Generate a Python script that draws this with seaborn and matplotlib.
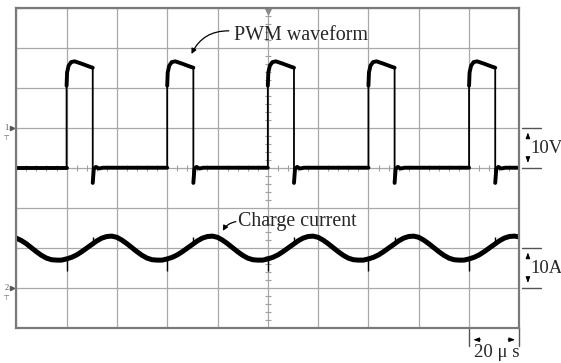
import numpy as np
import pandas as pd
import matplotlib
matplotlib.use("Agg")
import matplotlib.pyplot as plt
import seaborn as sns
from matplotlib.patches import FancyArrowPatch

# ---------------- data (in screen divisions, 20 us/div, 10 V/div, 10 A/div) -------------
# PWM pulse shape relative to each pulse start (time offset in div, level in div)
pwm_shape_dt = [0.0, 0.0, 0.01, 0.04, 0.09, 0.16, 0.30, 0.45, 0.52, 0.52, 0.54, 0.58, 0.64, 0.72]
pwm_shape_v = [4.0, 6.05, 6.38, 6.55, 6.64, 6.66, 6.60, 6.53, 6.50, 3.62, 3.96, 4.02, 3.98, 4.0]
pulse_starts = [1, 3, 5, 7, 9]
pwm_low = 4.0

# charge current trace, sampled every 0.1 div from 0 to 10 div
current_t = [round(0.1 * i, 1) for i in range(101)]
current_div = [
    2.24, 2.18, 2.10, 2.00, 1.90, 1.81, 1.74, 1.70, 1.69, 1.69,
    1.72, 1.76, 1.82, 1.90, 1.99, 2.08, 2.17, 2.24, 2.28, 2.29,
    2.26, 2.19, 2.10, 2.00, 1.90, 1.81, 1.74, 1.70, 1.69, 1.69,
    1.72, 1.76, 1.82, 1.90, 1.99, 2.08, 2.17, 2.24, 2.28, 2.29,
    2.26, 2.19, 2.10, 2.00, 1.90, 1.81, 1.74, 1.70, 1.69, 1.69,
    1.72, 1.76, 1.82, 1.90, 1.99, 2.08, 2.17, 2.24, 2.28, 2.29,
    2.26, 2.19, 2.10, 2.00, 1.90, 1.81, 1.74, 1.70, 1.69, 1.69,
    1.72, 1.76, 1.82, 1.90, 1.99, 2.08, 2.17, 2.24, 2.28, 2.29,
    2.26, 2.19, 2.10, 2.00, 1.90, 1.81, 1.74, 1.70, 1.69, 1.69,
    1.72, 1.76, 1.82, 1.90, 1.99, 2.08, 2.17, 2.24, 2.28, 2.29,
    2.27,
]
# switching spikes on the current trace
spike_t = [1.0, 3.0, 5.0, 7.0, 9.0, 1.52, 3.52, 5.52, 7.52, 9.52]
spike_from = [1.72, 1.72, 1.72, 1.72, 1.72, 2.10, 2.10, 2.10, 2.10, 2.10]
spike_to = [1.42, 1.42, 1.42, 1.42, 1.42, 2.26, 2.26, 2.26, 2.26, 2.26]

label_pwm = "PWM waveform"
label_cur = "Charge current"
scale_v = "10V"
scale_a = "10A"
scale_t = "20 μ s"

# ---------------- build tables ---------------------------------------------------------
pwm_t = [0.0]
pwm_v = [pwm_low]
for s in pulse_starts:
    for dt, v in zip(pwm_shape_dt, pwm_shape_v):
        pwm_t.append(s + dt)
        pwm_v.append(v)
pwm_t.append(10.0)
pwm_v.append(pwm_low)
pwm = pd.DataFrame({"t": pwm_t, "v": pwm_v})
jump = np.r_[False, np.diff(pwm["t"].values) == 0]
pwm["seg"] = np.cumsum(jump)
cur = pd.DataFrame({"t": current_t, "v": current_div})

# ---------------- figure ----------------------------------------------------------------
sns.set_style("white")
plt.rcParams["font.family"] = ["Liberation Serif", "DejaVu Serif"]

fig = plt.figure(figsize=(5.61, 3.63), dpi=100)
ax = fig.add_axes([0.029, 0.0972, 0.8968, 0.8815])
ax.set_xlim(0, 10)
ax.set_ylim(0, 8)
ax.set_xticks(range(11))
ax.set_yticks(range(9))
ax.grid(True, color="#a8a8a8", lw=0.9)
ax.set_axisbelow(True)
ax.tick_params(length=0, labelbottom=False, labelleft=False)
for sp in ax.spines.values():
    sp.set_color("#7a7a7a")
    sp.set_linewidth(1.6)

# graticule centre ticks
minor = [x for x in np.arange(0.2, 10, 0.2) if abs(x - round(x)) > 1e-6]
ax.plot(minor, [4] * len(minor), "|", ms=4, mew=0.8, color="#a0a0a0")
minor_y = [y for y in np.arange(0.2, 8, 0.2) if abs(y - round(y)) > 1e-6]
ax.plot([5] * len(minor_y), minor_y, "_", ms=4, mew=0.8, color="#a0a0a0")
ax.plot([5], [7.93], "v", ms=5, color="#8a8a8a", clip_on=False)

# traces
sns.lineplot(data=pwm, x="t", y="v", sort=False, estimator=None, color="black", lw=1.3, ax=ax)
sns.lineplot(data=pwm, x="t", y="v", units="seg", sort=False, estimator=None, color="black",
             lw=2.8, ax=ax)
sns.lineplot(data=cur, x="t", y="v", sort=False, estimator=None, color="black", lw=3.6, ax=ax)
for ln in ax.get_lines():
    ln.set_solid_joinstyle("round")
ax.vlines(spike_t, spike_from, spike_to, color="black", lw=1.0)
ax.set_xlabel("")
ax.set_ylabel("")

# annotations
ax.text(4.33, 7.19, label_pwm, fontsize=14.4, ha="left", va="baseline")
ax.add_patch(FancyArrowPatch((4.28, 7.42), (3.46, 6.78), connectionstyle="arc3,rad=0.35",
                             arrowstyle="-|>,head_length=3,head_width=1.5", color="black", lw=0.9))
ax.text(4.41, 2.54, label_cur, fontsize=14.4, ha="left", va="baseline")
ax.add_patch(FancyArrowPatch((4.42, 2.66), (4.08, 2.36), connectionstyle="arc3,rad=0.3",
                             arrowstyle="-|>,head_length=3,head_width=1.5", color="black", lw=0.9))

# channel markers on the left
for lvl, name in [(5, "1"), (1, "2")]:
    ax.text(-0.2, lvl, name, fontsize=6, ha="center", va="center", color="#555555", clip_on=False)
    ax.plot([-0.08], [lvl], ">", ms=3, color="#555555", clip_on=False)
    ax.text(-0.2, lvl - 0.18, "⊥", fontsize=5, ha="center", va="center", color="#777777",
            rotation=180, clip_on=False)

# scale markers on the right
arrow_kw = dict(arrowstyle="-|>,head_length=0.35,head_width=0.13", color="black", lw=0.7)
for hi, lo, txt in [(5, 4, scale_v), (2, 1, scale_a)]:
    for lvl in (hi, lo):
        ax.plot([10.05, 10.43], [lvl, lvl], color="#555555", lw=1.0, clip_on=False)
    ax.annotate("", xy=(10.17, hi - 0.05), xytext=(10.17, hi - 0.32), arrowprops=arrow_kw,
                annotation_clip=False)
    ax.annotate("", xy=(10.17, lo + 0.05), xytext=(10.17, lo + 0.32), arrowprops=arrow_kw,
                annotation_clip=False)
    ax.text(10.21, (hi + lo) / 2 - 0.02, txt, fontsize=13.5, ha="left", va="center", clip_on=False)

# time scale marker below
for xv in (9, 10):
    ax.plot([xv, xv], [0, -0.45], color="#555555", lw=1.0, clip_on=False)
ax.annotate("", xy=(9.03, -0.3), xytext=(9.28, -0.3), arrowprops=arrow_kw, annotation_clip=False)
ax.annotate("", xy=(9.97, -0.3), xytext=(9.72, -0.3), arrowprops=arrow_kw, annotation_clip=False)
ax.text(9.55, -0.62, scale_t, fontsize=13.5, ha="center", va="center", clip_on=False)

fig.savefig("out.png", dpi=100)
